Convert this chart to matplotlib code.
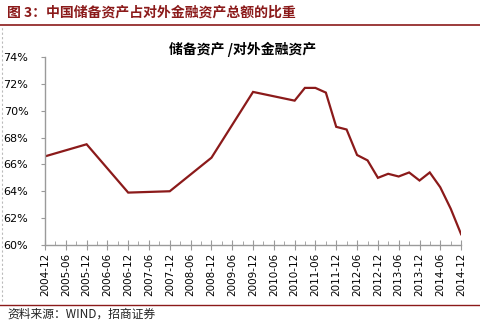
import datetime as dt

import matplotlib
matplotlib.use("Agg")
import matplotlib.pyplot as plt
import matplotlib.dates as mdates
from matplotlib.lines import Line2D
from matplotlib.ticker import FuncFormatter

plt.rcParams["font.family"] = ["Noto Sans CJK SC", "DejaVu Sans"]

# Reserve assets / total external financial assets (%)
periods = ["2004-12", "2005-12", "2006-12", "2007-12", "2008-12", "2009-12",
           "2010-12", "2011-03", "2011-06", "2011-09", "2011-12", "2012-03",
           "2012-06", "2012-09", "2012-12", "2013-03", "2013-06", "2013-09",
           "2013-12", "2014-03", "2014-06", "2014-09", "2014-12"]
share = [66.6, 67.5, 63.9, 64.0, 66.5, 71.4,
         70.75, 71.7, 71.7, 71.35, 68.8, 68.6,
         66.7, 66.3, 65.0, 65.3, 65.1, 65.4,
         64.8, 65.4, 64.3, 62.7, 60.8]

yticks = [60, 62, 64, 66, 68, 70, 72, 74]

DARK_RED = "#8B1A1A"
AXIS_GREY = "#9A9A9A"


def _month(s):
    y, m = s.split("-")
    return dt.datetime(int(y), int(m), 1)


dates = [_month(p) for p in periods]

fig = plt.figure(figsize=(4.81, 3.24), dpi=100)
ax = fig.add_axes([0.0936, 0.244, 0.865, 0.580])

ax.plot(dates, share, color=DARK_RED, lw=1.6, solid_joinstyle="miter")

ax.set_xlim(_month("2004-12"), _month("2014-12"))
ax.set_ylim(yticks[0], yticks[-1])
ax.set_yticks(yticks)
ax.yaxis.set_major_formatter(FuncFormatter(lambda v, _: f"{v:.0f}%"))

ax.xaxis.set_major_locator(mdates.MonthLocator(bymonth=[6, 12]))
ax.xaxis.set_minor_locator(mdates.MonthLocator(bymonth=[3, 9]))
ax.xaxis.set_major_formatter(mdates.DateFormatter("%Y-%m"))

for side in ("top", "right"):
    ax.spines[side].set_visible(False)
for side in ("left", "bottom"):
    ax.spines[side].set_color(AXIS_GREY)
    ax.spines[side].set_linewidth(1.0)

ax.tick_params(axis="x", which="major", direction="inout", length=7,
               color=AXIS_GREY, labelsize=7.5, pad=2, labelrotation=90)
ax.tick_params(axis="x", which="minor", direction="in", length=3,
               color=AXIS_GREY)
ax.tick_params(axis="y", which="major", direction="out", length=3,
               color=AXIS_GREY, labelsize=8, pad=9)
for lbl in ax.get_xticklabels() + ax.get_yticklabels():
    lbl.set_family("DejaVu Sans")

ax.set_title("储备资产 /对外金融资产", fontsize=10, fontweight="bold",
             pad=1, x=0.474)

# report frame: caption, rules and source line
fig.text(0.015, 0.962, "图 3：中国储备资产占对外金融资产总额的比重",
         color=DARK_RED, fontsize=10, fontweight="bold", va="center")
fig.add_artist(Line2D([0, 1], [0.923, 0.923], transform=fig.transFigure,
                      color=DARK_RED, lw=1.2))
fig.add_artist(Line2D([0, 1], [0.059, 0.059], transform=fig.transFigure,
                      color=DARK_RED, lw=1.0))
fig.add_artist(Line2D([0.005, 0.005], [0.07, 0.92], transform=fig.transFigure,
                      color="#BBBBBB", lw=0.8, ls=(0, (2, 2))))
fig.text(0.015, 0.030, "资料来源：WIND，招商证券", fontsize=8.5,
         va="center", color="#222222")

fig.savefig("out.png", dpi=100)
